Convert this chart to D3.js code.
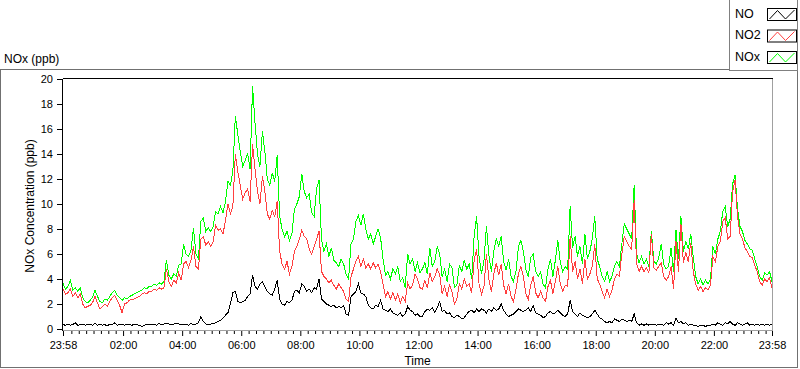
<!DOCTYPE html>
<html>
<head>
<meta charset="utf-8">
<script src="https://cdn.jsdelivr.net/npm/d3@7"></script>
<style>
  body { margin: 0; background: #fff; }
  svg { display: block; font-family: "Liberation Sans", Arial, sans-serif; }
</style>
</head>
<body>
<svg id="chart" width="800" height="369"></svg>
<script>
// ---- data (5-minute samples, 23:58 to 23:58 next day) ----
const sampleStep = 5;
const startTime = new Date(2000, 0, 1, 23, 58);
const endTime = new Date(2000, 0, 2, 23, 58);

const seriesNames = ["NO", "NO2", "NOx"];
const seriesColors = ["#000000", "#ff4040", "#00ff00"];

const xTickLabels = ["23:58", "02:00", "04:00", "06:00", "08:00", "10:00", "12:00",
  "14:00", "16:00", "18:00", "20:00", "22:00", "23:58"];
const yTicks = [0, 2, 4, 6, 8, 10, 12, 14, 16, 18, 20];

const no = [
  0.35, 0.3, 0.4, 0.3, 0.35, 0.5, 0.3, 0.35, 0.4, 0.3,
  0.35, 0.4, 0.3, 0.45, 0.3, 0.4, 0.3, 0.35, 0.25, 0.4,
  0.35, 0.5, 0.3, 0.4, 0.35, 0.3, 0.4, 0.35, 0.3, 0.4,
  0.35, 0.3, 0.2, 0.3, 0.35, 0.4, 0.35, 0.4, 0.3, 0.45,
  0.35, 0.4, 0.45, 0.4, 0.35, 0.4, 0.45, 0.4, 0.4, 0.35,
  0.4, 0.3, 0.45, 0.35, 0.4, 0.5, 1.0, 0.6, 0.4, 0.35,
  0.4, 0.45, 0.5, 0.6, 0.7, 0.9, 1.1, 1.3, 2.0, 2.9,
  3.0, 2.2, 2.1, 2.2, 2.3, 2.6, 2.8, 4.3, 3.4, 3.2,
  3.6, 3.8, 3.4, 3.0, 2.8, 2.7, 3.2, 3.9, 2.4, 2.0,
  1.9, 2.2, 2.1, 2.3, 3.0, 3.1, 2.9, 3.6, 3.4, 3.0,
  3.2, 2.9, 3.3, 3.2, 4.0, 2.4, 2.2, 2.0, 1.9, 1.8,
  1.9, 1.7, 1.8, 1.7, 1.9, 1.2, 1.1, 2.6, 2.8, 3.0,
  3.6, 2.9, 2.8, 2.6, 1.9, 1.7, 1.6, 1.9, 1.8, 2.3,
  1.6, 1.5, 1.4, 1.6, 1.3, 1.2, 1.1, 1.3, 1.0, 1.2,
  1.8, 1.5, 1.4, 1.1, 1.2, 1.0, 1.0, 1.4, 1.6, 1.5,
  1.7, 1.3, 1.7, 2.2, 1.4, 1.5, 1.2, 1.3, 1.0, 0.9,
  1.1, 1.0, 0.8, 0.9, 1.2, 1.4, 1.5, 1.3, 1.6, 1.4,
  1.6, 1.5, 1.3, 1.6, 1.4, 1.7, 1.5, 1.6, 2.0, 1.5,
  1.2, 1.0, 1.1, 1.2, 1.4, 1.6, 1.5, 1.4, 1.5, 1.7,
  1.4, 1.9, 1.3, 1.2, 1.1, 0.9, 1.0, 1.3, 1.4, 1.2,
  1.3, 1.5, 1.3, 1.1, 1.0, 1.2, 2.3, 1.4, 1.2, 1.0,
  1.3, 1.1, 1.0, 0.9, 1.0, 1.2, 1.5, 1.2, 0.9, 0.8,
  0.6, 0.5, 0.6, 0.5, 0.8, 0.7, 0.6, 0.8, 0.7, 0.6,
  0.7, 0.6, 1.2, 0.5, 0.3, 0.4, 0.3, 0.4, 0.3, 0.4,
  0.4, 0.3, 0.4, 0.4, 0.3, 0.5, 0.4, 0.5, 0.3, 0.9,
  0.5, 0.6, 0.4, 0.5, 0.3, 0.4, 0.3, 0.3, 0.2, 0.3,
  0.3, 0.2, 0.3, 0.3, 0.4, 0.3, 0.5, 0.4, 0.3, 0.5,
  0.4, 0.6, 0.4, 0.3, 0.5, 0.4, 0.3, 0.4, 0.5, 0.3,
  0.4, 0.3, 0.4, 0.3, 0.4, 0.3, 0.4, 0.3, 0.4
];

const no2 = [
  3.2, 2.8, 2.9, 3.2, 2.6, 2.9, 2.5, 2.8, 2.0, 1.7,
  1.8, 1.9, 2.1, 2.6, 2.1, 1.6, 1.8, 2.0, 1.8, 2.2,
  2.5, 2.7, 2.3, 1.9, 1.3, 2.0, 2.1, 2.3, 2.4, 2.4,
  2.5, 2.6, 2.8, 2.9, 2.8, 3.0, 3.0, 3.2, 3.1, 3.3,
  3.2, 3.3, 4.8, 3.8, 3.4, 3.9, 3.7, 4.5, 3.9, 5.2,
  5.4, 4.9, 5.5, 6.6, 5.0, 4.8, 7.2, 7.4, 6.7, 7.0,
  6.6, 7.0, 8.3, 7.9, 8.0, 7.6, 8.7, 10.0, 9.2, 9.8,
  14.0, 12.6, 11.5, 10.4, 10.9, 11.2, 10.2, 14.8, 12.8, 11.0,
  10.0, 12.2, 11.0, 9.2, 8.8, 9.5, 9.0, 10.2, 6.2, 5.2,
  4.8, 5.4, 4.4, 5.0, 6.2, 6.6, 7.2, 7.9, 7.4, 7.2,
  6.4, 6.0, 6.6, 7.2, 7.8, 4.6, 4.2, 4.0, 3.7, 3.9,
  3.5, 3.2, 3.6, 3.3, 3.0, 2.4, 2.2, 4.2, 4.8, 5.4,
  5.8, 5.0, 5.6, 4.9, 5.2, 4.8, 5.3, 4.9, 5.2, 4.6,
  3.6, 2.6, 3.0, 2.4, 2.9, 2.3, 2.8, 2.1, 2.6, 2.2,
  3.7, 3.2, 3.5, 4.4, 4.0, 3.3, 3.2, 3.9, 3.3, 4.5,
  3.8, 4.2, 4.8, 4.4, 2.8, 3.4, 2.6, 3.5, 3.0, 2.0,
  2.4, 3.6, 3.2, 4.0, 3.4, 3.6, 2.9, 5.5, 6.4, 3.6,
  2.8, 3.4, 6.0, 4.0, 3.0, 4.4, 5.3, 4.3, 5.2, 3.5,
  2.8, 3.6, 2.6, 2.2, 3.2, 4.4, 5.0, 4.2, 2.8, 2.4,
  3.5, 4.2, 2.9, 2.5, 3.0, 2.5, 2.2, 3.4, 3.9, 2.8,
  3.8, 5.0, 3.6, 3.0, 3.5, 3.4, 7.4, 4.6, 5.4, 4.0,
  4.8, 3.6, 5.6, 4.0, 4.4, 5.0, 6.8, 4.0, 3.6, 3.0,
  2.5, 3.2, 2.6, 3.1, 4.0, 4.4, 4.2, 6.0, 7.4, 7.0,
  6.6, 6.4, 10.3, 5.2, 4.6, 5.0, 4.6, 4.9, 4.5, 7.6,
  4.9, 4.7, 5.0, 5.3, 4.2, 3.9, 4.2, 5.0, 3.2, 7.0,
  4.6, 8.4, 5.3, 6.1, 5.4, 6.9, 4.6, 3.6, 3.1, 3.4,
  3.0, 3.3, 3.1, 3.5, 5.8, 5.4, 6.6, 7.0, 8.6, 8.9,
  7.2, 7.4, 11.0, 11.9, 9.0, 7.6, 7.2, 6.5, 6.2, 5.8,
  5.7, 5.1, 4.6, 3.8, 3.5, 4.0, 3.8, 4.1, 3.3
];

const nox = [
  3.65, 3.2, 3.4, 3.9, 3.1, 3.3, 3.0, 3.3, 2.5, 2.2,
  2.1, 2.3, 2.5, 3.1, 2.6, 2.2, 2.1, 2.4, 2.3, 2.6,
  2.9, 3.1, 2.7, 2.5, 2.3, 2.5, 2.4, 2.6, 2.7, 2.8,
  2.9, 3.0, 3.1, 3.3, 3.2, 3.4, 3.4, 3.6, 3.5, 3.7,
  3.6, 3.8, 5.5, 4.3, 4.0, 4.4, 4.2, 5.1, 5.2, 6.8,
  6.0, 5.8, 6.3, 8.1, 6.0, 5.6, 8.6, 8.9, 7.8, 8.1,
  7.8, 8.2, 9.4, 9.2, 9.8, 9.3, 10.2, 11.8, 11.5, 12.6,
  17.0, 15.6, 14.2, 13.0, 13.5, 14.0, 12.8, 19.4, 16.5, 14.0,
  13.0, 15.8, 14.2, 12.0, 11.5, 12.5, 11.8, 13.9, 9.0, 8.0,
  7.4, 7.8, 7.1, 7.6, 9.6, 10.0, 10.6, 12.4, 11.0, 10.5,
  10.8, 9.3, 9.0, 11.2, 11.9, 7.2, 6.2, 6.8, 5.8, 6.5,
  5.5, 5.3, 5.0, 5.6, 5.2, 4.4, 4.0, 6.8, 7.2, 8.6,
  9.1, 8.3, 9.2, 8.0, 7.2, 7.6, 6.8, 7.4, 8.0, 7.3,
  5.6, 4.3, 4.6, 4.0, 4.8, 4.4, 5.0, 3.8, 4.1, 3.3,
  6.0, 5.2, 5.6, 4.6, 5.3, 4.5, 4.8, 5.3, 4.4, 6.5,
  5.0, 5.4, 6.6, 6.0, 4.2, 4.8, 3.8, 5.2, 4.9, 3.3,
  3.5, 5.1, 4.6, 5.5, 4.8, 5.2, 4.0, 7.4, 9.0, 5.8,
  4.4, 5.5, 8.2, 5.9, 4.6, 6.2, 7.2, 6.6, 7.4, 5.4,
  4.7, 5.6, 4.2, 3.8, 4.6, 6.6, 7.1, 6.2, 4.8, 4.2,
  5.7, 6.0, 4.6, 4.2, 4.6, 3.6, 3.3, 4.8, 5.6, 4.2,
  5.5, 7.1, 5.3, 4.6, 5.0, 4.8, 9.8, 6.5, 7.4, 5.8,
  6.6, 5.2, 7.6, 5.6, 6.2, 7.2, 9.0, 5.6, 5.0, 4.2,
  3.8, 4.6, 3.8, 4.2, 5.0, 5.4, 5.0, 6.8, 8.4, 8.0,
  7.6, 7.2, 11.5, 6.0, 5.3, 5.8, 5.2, 5.6, 5.0, 7.8,
  5.4, 5.2, 5.7, 6.8, 5.2, 4.8, 5.0, 6.5, 4.6, 7.9,
  5.6, 9.0, 6.2, 7.0, 6.4, 7.6, 5.8, 4.2, 3.6, 4.0,
  3.5, 3.9, 3.6, 4.0, 6.6, 6.0, 7.2, 7.8, 9.4, 9.8,
  8.2, 8.8, 11.6, 12.3, 9.6, 8.2, 7.8, 7.1, 6.8, 6.4,
  6.3, 5.6, 5.0, 4.2, 3.9, 4.5, 4.3, 4.6, 3.8
];

// ---- layout ----
const plot = { left: 63, right: 772, top: 79, bottom: 329 };
const svg = d3.select('#chart');

const times = no.map((_, i) => d3.timeMinute.offset(startTime, i * sampleStep));

const x = d3.scaleTime().domain([startTime, endTime]).range([plot.left, plot.right]);
const y = d3.scaleLinear().domain([0, 20]).range([plot.bottom, plot.top]);

// outer frame
svg.append('rect')
  .attr('x', 0.5).attr('y', 69.5).attr('width', 797).attr('height', 298)
  .attr('fill', '#fff').attr('stroke', '#707070');

// chart title
svg.append('text')
  .attr('x', 4).attr('y', 62.5)
  .attr('font-size', 12).text('NOx (ppb)');

// plot background
svg.append('rect')
  .attr('x', plot.left - 0.5).attr('y', plot.top - 0.5)
  .attr('width', plot.right - plot.left + 1).attr('height', plot.bottom - plot.top + 2)
  .attr('fill', '#fff');

svg.append('defs').append('clipPath').attr('id', 'clip')
  .append('rect')
  .attr('x', plot.left).attr('y', plot.top)
  .attr('width', plot.right - plot.left).attr('height', plot.bottom - plot.top + 1);

// series, NOx at the back, NO on top
const line = d3.line()
  .x((d, i) => x(times[i]))
  .y(d => y(d));

const seriesData = [no, no2, nox];
const drawOrder = [2, 1, 0];
svg.append('g').attr('clip-path', 'url(#clip)')
  .selectAll('path')
  .data(drawOrder)
  .join('path')
  .attr('fill', 'none')
  .attr('stroke', k => seriesColors[k])
  .attr('stroke-width', 1)
  .attr('shape-rendering', 'crispEdges')
  .attr('d', k => line(seriesData[k]));

// plot border: dark top/left, grey bottom/right
const b = svg.append('g').attr('shape-rendering', 'crispEdges');
b.append('line').attr('x1', plot.left - 0.5).attr('x2', plot.right + 0.5)
  .attr('y1', plot.top - 0.5).attr('y2', plot.top - 0.5).attr('stroke', '#000');
b.append('line').attr('x1', plot.left - 0.5).attr('x2', plot.left - 0.5)
  .attr('y1', plot.top - 0.5).attr('y2', plot.bottom + 1.5).attr('stroke', '#000');
b.append('line').attr('x1', plot.left - 0.5).attr('x2', plot.right + 0.5)
  .attr('y1', plot.bottom + 1.5).attr('y2', plot.bottom + 1.5).attr('stroke', '#a0a0a0');
b.append('line').attr('x1', plot.right + 0.5).attr('x2', plot.right + 0.5)
  .attr('y1', plot.top - 0.5).attr('y2', plot.bottom + 1.5).attr('stroke', '#a0a0a0');

// y axis
const yAxis = svg.append('g')
  .attr('transform', `translate(${plot.left - 1},0)`)
  .call(d3.axisLeft(y).tickValues(yTicks).tickSize(5).tickPadding(4))
  .attr('font-family', null).attr('font-size', 11);
yAxis.select('.domain').remove();
yAxis.selectAll('.tick line').attr('stroke', '#000');

// x axis: major ticks with labels, 15-minute minor ticks
const majorTicks = xTickLabels.map((s, i) => {
  if (i === 0) return startTime;
  if (i === xTickLabels.length - 1) return endTime;
  const [h, m] = s.split(':').map(Number);
  return new Date(2000, 0, 2, h, m);
});
const majorSet = new Set(majorTicks.map(d => +d));
const minorTicks = d3.timeMinute.every(15).range(startTime, endTime)
  .filter(d => !majorSet.has(+d) && x(d) - plot.left > 2);

const axisY = plot.bottom + 2;
const xMinor = svg.append('g')
  .attr('transform', `translate(0,${axisY})`)
  .call(d3.axisBottom(x).tickValues(minorTicks).tickSize(3).tickFormat(''));
xMinor.select('.domain').remove();

const xAxis = svg.append('g')
  .attr('transform', `translate(0,${axisY})`)
  .call(d3.axisBottom(x).tickValues(majorTicks).tickSize(5).tickPadding(5)
    .tickFormat((d, i) => xTickLabels[i]))
  .attr('font-family', null).attr('font-size', 11);
xAxis.select('.domain').remove();

// axis titles
svg.append('text')
  .attr('x', (plot.left + plot.right) / 2).attr('y', 365)
  .attr('text-anchor', 'middle').attr('font-size', 12).text('Time');

svg.append('text')
  .attr('transform', `translate(34,${(plot.top + plot.bottom) / 2 + 2}) rotate(-90)`)
  .attr('text-anchor', 'middle').attr('font-size', 12)
  .text('NOx Concentration (ppb)');

// legend box, top right
const legend = svg.append('g');
legend.append('rect')
  .attr('x', 729.5).attr('y', -1).attr('width', 68).attr('height', 71.5)
  .attr('fill', '#fff').attr('stroke', '#808080');

const swatchW = 29, swatchH = 12;
const zig = d3.line()([[2, swatchH - 1.5], [10, 2], [18, swatchH - 1.5], [27, 1.5]]);
const rows = legend.selectAll('g.row')
  .data(seriesNames)
  .join('g').attr('class', 'row')
  .attr('transform', (d, i) => `translate(0,${i * 21.5})`);

rows.append('text')
  .attr('x', 735).attr('y', 17.5)
  .attr('font-size', 12.5).text(d => d);
rows.append('rect')
  .attr('x', 767.5).attr('y', 8.5).attr('width', swatchW).attr('height', swatchH)
  .attr('fill', '#fff').attr('stroke', '#000');
rows.append('path')
  .attr('transform', 'translate(767.5,8.5)')
  .attr('d', zig).attr('fill', 'none')
  .attr('stroke', (d, i) => seriesColors[i]).attr('stroke-width', 1);
</script>
</body>
</html>
